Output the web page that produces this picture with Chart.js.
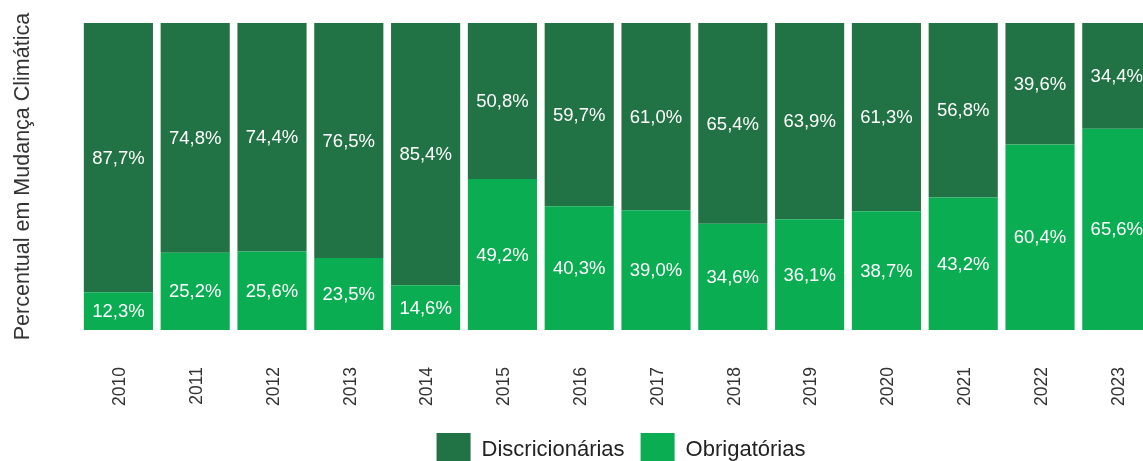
<!DOCTYPE html>
<html>
<head>
<meta charset="utf-8">
<script src="https://cdn.jsdelivr.net/npm/chart.js@4/dist/chart.umd.min.js"></script>
<style>
  html, body { margin: 0; padding: 0; overflow: hidden; background: #fff; }
  #wrap { width: 1143px; height: 461px; overflow: hidden; position: relative; }
  canvas { display: block; }
</style>
</head>
<body>
<div id="wrap"><canvas id="grafico" width="1175" height="477"></canvas></div>
<script>
// anos
const anos = ['2010', '2011', '2012', '2013', '2014', '2015', '2016', '2017', '2018', '2019', '2020', '2021', '2022', '2023'];

// percentuais por tipo de despesa
const discricionarias = [87.7, 74.8, 74.4, 76.5, 85.4, 50.8, 59.7, 61.0, 65.4, 63.9, 61.3, 56.8, 39.6, 34.4];
const obrigatorias = [12.3, 25.2, 25.6, 23.5, 14.6, 49.2, 40.3, 39.0, 34.6, 36.1, 38.7, 43.2, 60.4, 65.6];

const fonte = "'Liberation Sans', Arial, sans-serif";

// rótulos dentro das barras
const rotulosPlugin = {
    id: 'rotulos',
    afterDatasetsDraw(chart) {
        const ctx = chart.ctx;
        ctx.save();
        ctx.fillStyle = '#ffffff';
        ctx.font = '18.5px ' + fonte;
        ctx.textAlign = 'center';
        ctx.textBaseline = 'middle';
        chart.data.datasets.forEach((ds, i) => {
            const meta = chart.getDatasetMeta(i);
            meta.data.forEach((bar, j) => {
                const p = bar.getCenterPoint();
                const texto = ds.data[j].toFixed(1).replace('.', ',') + '%';
                ctx.fillText(texto, p.x, p.y + 1);
            });
        });
        ctx.restore();
    }
};

// legenda um pouco deslocada para a direita
const legendaPlugin = {
    id: 'legendaDesloc',
    afterLayout(chart) {
        chart.legend.left += 36;
        chart.legend.right += 36;
    }
};

new Chart(document.getElementById('grafico'), {
    type: 'bar',
    data: {
        labels: anos,
        datasets: [
            {
                label: 'Obrigatórias',
                data: obrigatorias,
                backgroundColor: '#0aad52'
            },
            {
                label: 'Discricionárias',
                data: discricionarias,
                backgroundColor: '#217244'
            }
        ]
    },
    options: {
        responsive: false,
        animation: false,
        datasets: {
            bar: { barPercentage: 0.9, categoryPercentage: 1.0 }
        },
        layout: { padding: { top: 23, right: 5, left: 0, bottom: 0 } },
        scales: {
            x: {
                stacked: true,
                grid: { display: false, drawTicks: false },
                border: { display: false },
                ticks: {
                    minRotation: 90,
                    maxRotation: 90,
                    padding: 37,
                    labelOffset: 2,
                    color: '#333333',
                    font: { family: fonte, size: 17.5 }
                },
                afterFit(scale) { scale.height = scale.height - 26; }
            },
            y: {
                stacked: true,
                min: 0,
                max: 100,
                grid: { display: false, drawTicks: false },
                border: { display: false },
                ticks: { display: false },
                title: {
                    display: true,
                    text: 'Percentual em Mudança Climática',
                    color: '#333333',
                    font: { family: fonte, size: 21.5 },
                    padding: { top: 10, bottom: 0 }
                },
                afterFit(scale) { scale.width = 80; }
            }
        },
        plugins: {
            legend: {
                position: 'bottom',
                reverse: true,
                labels: {
                    boxWidth: 34,
                    boxHeight: 34,
                    padding: 16,
                    color: '#222222',
                    font: { family: fonte, size: 22 }
                }
            },
            tooltip: { enabled: false }
        }
    },
    plugins: [rotulosPlugin, legendaPlugin]
});
</script>
</body>
</html>
